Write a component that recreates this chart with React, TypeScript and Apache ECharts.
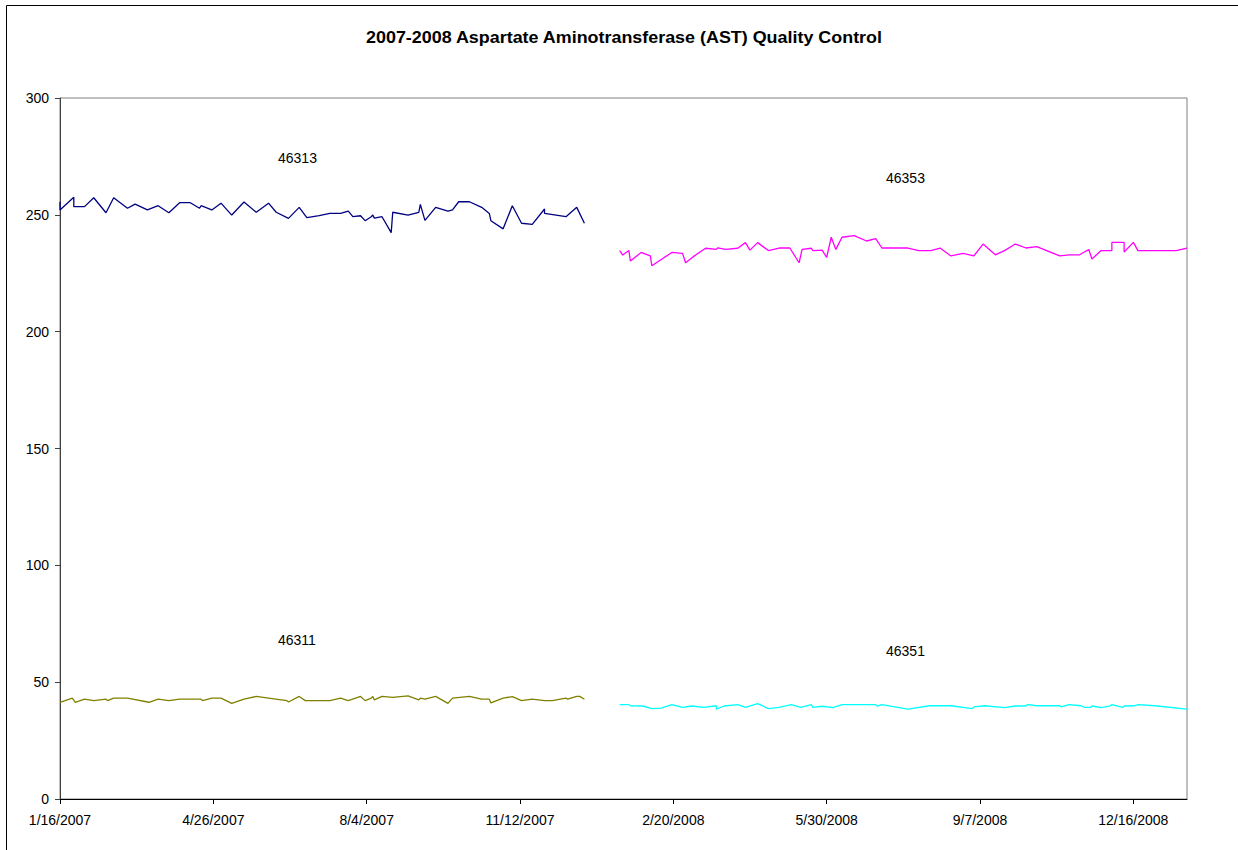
import React, { useEffect, useRef } from "react";
import * as echarts from "echarts";

// x values are days counted from 1/16/2007
const START_UTC = Date.UTC(2007, 0, 16);
const X_MAX_DAY = 735;
const tickDays = [0, 100, 200, 300, 400, 500, 600, 700];
const yTicks = [0, 50, 100, 150, 200, 250, 300];

const seriesNames = ["46313", "46311", "46353", "46351"];

const days46313 = [0,0,9,9,16,22,30,35,44,49,57,64,71,78,85,91,92,99,105,112,120,128,136,141,149,156,161,169,176,183,188,191,196,199,203,204,205,210,216,217,227,234,235,238,245,253,256,260,267,275,280,281,289,295,301,308,316,316,330,337,342];
const values46313 = [255.6,252.1,257.5,253.5,253.5,257.3,250.9,257.3,252.8,254.6,252.1,253.9,250.9,255.2,255.2,252.8,253.9,252.1,255.0,249.9,255.5,251.1,255.0,251.1,248.5,253.2,248.8,249.7,250.6,250.6,251.6,249.2,249.6,247.5,249.2,249.9,248.6,249.2,242.4,251.1,249.9,251.1,254.5,247.6,253.2,251.6,252.1,255.6,255.6,253.2,250.6,247.5,244.0,253.9,246.4,245.9,252.5,250.6,249.2,253.2,246.4];

const days46311 = [0,8,10,16,22,30,31,35,44,58,64,71,78,92,93,99,105,112,120,128,136,148,149,156,160,169,176,183,188,196,199,203,204,205,210,217,227,234,235,238,245,253,256,267,275,280,281,289,295,301,308,316,321,330,331,337,339,342];
const values46311 = [41.4,43.2,41.4,42.7,42.1,42.7,42.1,43.2,43.2,41.4,42.7,42.1,42.7,42.7,42.1,43.2,43.2,40.9,42.7,43.9,43.2,42.1,41.5,43.9,42.1,42.1,42.1,43.2,42.1,43.9,42.1,43.2,43.9,42.4,43.9,43.5,44.1,42.4,43.2,42.7,43.9,40.9,43.2,43.9,42.7,42.7,41.1,43.2,43.8,42.1,42.7,42.1,42.1,43.2,42.7,43.9,43.9,42.7];

const days46353 = [365,367,371,372,379,385,386,399,406,408,413,421,428,429,434,442,447,450,455,462,469,476,482,484,490,491,497,500,503,506,510,518,526,532,536,553,560,568,574,581,589,596,602,610,616,623,630,637,652,658,665,668,671,673,679,686,686,694,694,700,703,728,735];
const values46353 = [234.7,232.8,234.7,230.2,233.9,232.4,228.2,233.9,233.5,229.5,232.1,235.7,235.2,235.9,235.2,235.7,238.1,234.9,238.1,234.7,235.8,235.8,229.5,235.2,235.7,234.7,234.9,231.8,240.4,235.2,240.4,241.1,238.8,239.8,235.8,235.8,234.7,234.7,235.8,232.4,233.5,232.4,237.5,232.9,234.7,237.5,235.8,236.4,232.4,232.9,232.9,234.1,235.1,231.1,234.7,234.7,238.2,238.2,234.1,238.2,234.7,234.7,235.8];

const days46351 = [365,371,372,380,386,392,399,406,412,420,428,428,433,442,447,455,462,469,477,483,490,491,497,504,510,532,533,536,553,567,581,595,596,603,616,623,630,631,637,652,653,658,666,668,672,673,679,685,686,693,694,701,703,714,735];
const values46351 = [40.4,40.4,39.9,39.8,38.7,38.9,40.4,39.2,39.8,39.2,39.9,38.5,39.8,40.4,39.2,40.8,38.7,39.2,40.4,39.2,40.4,39.2,39.7,39.1,40.4,40.4,39.7,40.4,38.5,39.9,39.9,38.7,39.4,39.9,39.1,39.8,39.8,40.4,39.9,39.9,39.4,40.4,39.9,39.2,39.2,39.8,39.1,39.9,40.4,39.2,39.8,39.9,40.4,39.9,38.5];

const FONT = "'Liberation Sans', Arial, sans-serif";

function dayLabel(v: number): string {
  const d = new Date(START_UTC + Math.round(v) * 86400000);
  return `${d.getUTCMonth() + 1}/${d.getUTCDate()}/${d.getUTCFullYear()}`;
}

function pairs(days: number[], vals: number[]) {
  return days.map((d, i) => [d, vals[i]]);
}

export default function App() {
  const ref = useRef<HTMLDivElement>(null);
  useEffect(() => {
    if (!ref.current) return;
    const chart = echarts.init(ref.current, null, { renderer: "svg" });
    const lineSeries = (name: string, days: number[], vals: number[], color: string) => ({
      type: "line",
      name,
      data: pairs(days, vals),
      showSymbol: false,
      symbol: "none",
      lineStyle: { color, width: 1.3 },
      itemStyle: { color },
      silent: true,
    });
    const note = (text: string, x: number, y: number) => ({
      type: "text",
      x,
      y,
      style: { text, fontSize: 14, fontFamily: FONT, fill: "#000000", textVerticalAlign: "middle" },
    });
    chart.setOption({
      animation: false,
      backgroundColor: "#ffffff",
      grid: {
        left: 60,
        right: 51,
        top: 98,
        bottom: 51,
        show: true,
        borderColor: "#808080",
        borderWidth: 1,
        backgroundColor: "transparent",
      },
      xAxis: {
        type: "value",
        min: 0,
        max: X_MAX_DAY,
        interval: 100,
        axisLine: { show: true, lineStyle: { color: "#000000", width: 1 } },
        axisTick: {
          show: true,
          inside: false,
          length: 5,
          lineStyle: { color: "#000000" },
          customValues: tickDays,
        },
        axisLabel: {
          show: true,
          margin: 14,
          color: "#000000",
          fontSize: 14,
          fontFamily: FONT,
          customValues: tickDays,
          formatter: (v: number) => (Math.round(v) % 100 === 0 ? dayLabel(v) : ""),
        },
        splitLine: { show: false },
      },
      yAxis: {
        type: "value",
        min: 0,
        max: 300,
        interval: 50,
        axisLine: { show: true, lineStyle: { color: "#404040", width: 1 } },
        axisTick: { show: true, inside: false, length: 5, lineStyle: { color: "#404040" } },
        axisLabel: {
          margin: 11,
          color: "#000000",
          fontSize: 14,
          fontFamily: FONT,
          customValues: yTicks,
        },
        splitLine: { show: false },
      },
      series: [
        lineSeries(seriesNames[0], days46313, values46313, "#000080"),
        lineSeries(seriesNames[1], days46311, values46311, "#808000"),
        lineSeries(seriesNames[2], days46353, values46353, "#FF00FF"),
        lineSeries(seriesNames[3], days46351, values46351, "#00FFFF"),
      ],
      graphic: [
        {
          type: "rect",
          shape: { x: 6.5, y: 5.5, width: 1400, height: 1000 },
          style: { fill: "none", stroke: "#000000", lineWidth: 1 },
          silent: true,
          z: -10,
        },
        {
          type: "text",
          x: 624,
          y: 38,
          scaleX: 1.12,
          style: {
            text: "2007-2008 Aspartate Aminotransferase (AST) Quality Control",
            fontSize: 16,
            fontWeight: "bold",
            fontFamily: FONT,
            fill: "#000000",
            textAlign: "center",
            textVerticalAlign: "middle",
          },
        },
        note(seriesNames[0], 278, 158),
        note(seriesNames[1], 278, 640),
        note(seriesNames[2], 886, 178),
        note(seriesNames[3], 886, 651),
      ],
    });
    return () => chart.dispose();
  }, []);
  return (
    <div
      ref={ref}
      style={{ position: "absolute", left: 0, top: 0, width: 1238, height: 850, overflow: "hidden" }}
    />
  );
}
